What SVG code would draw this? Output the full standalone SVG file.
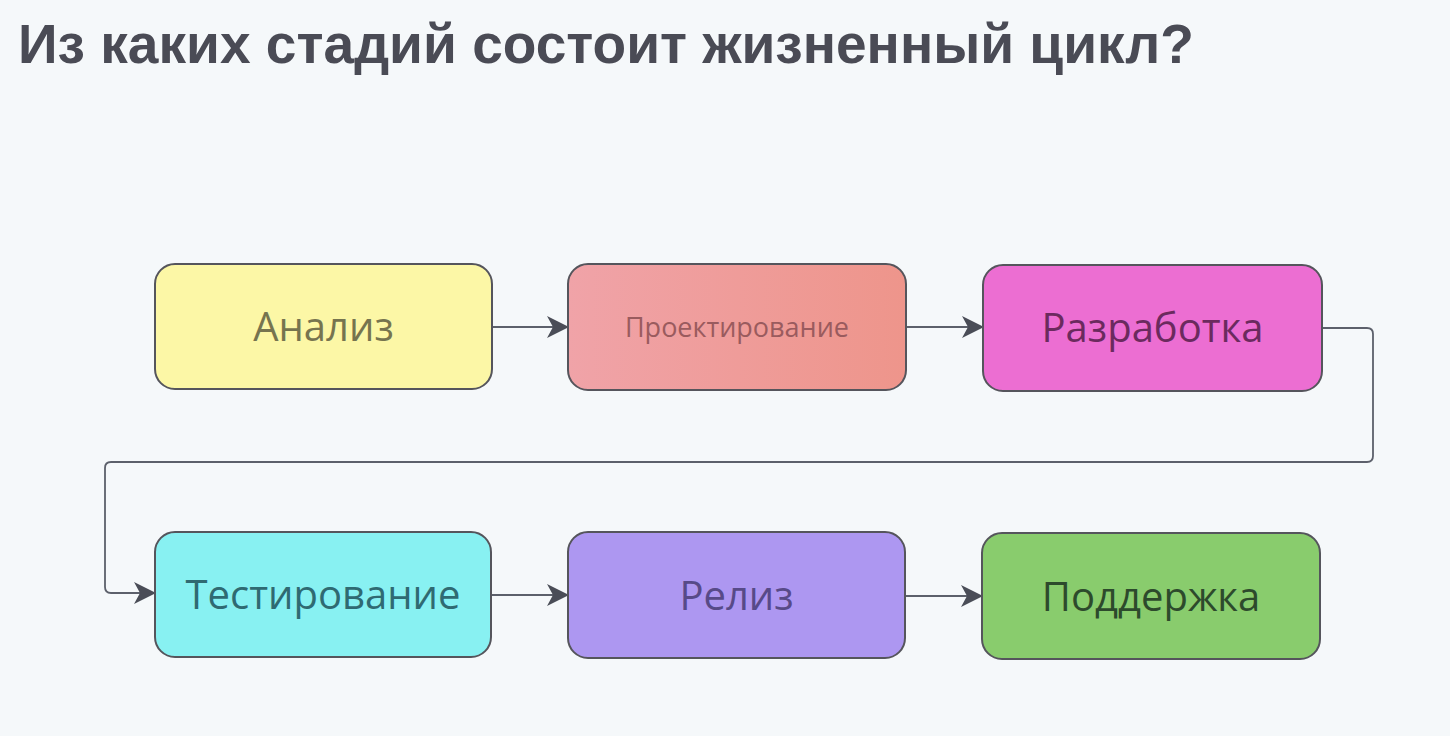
<svg xmlns="http://www.w3.org/2000/svg" width="1450" height="736" viewBox="0 0 1450 736">
  <defs>
    <marker id="arr" viewBox="0 0 22 22" refX="21" refY="11" markerWidth="22" markerHeight="22" markerUnits="userSpaceOnUse" orient="auto">
      <path d="M0,0 L22,11 L0,22 L6,11 Z" fill="#4a4d57"/>
    </marker>
    <linearGradient id="gProj" x1="0" y1="0" x2="1" y2="0">
      <stop offset="0" stop-color="#f0a3a8"/>
      <stop offset="1" stop-color="#ee958b"/>
    </linearGradient>
    <style>
      .box { stroke: #55555c; stroke-width: 2; }
      .lbl { font-family: "Open Sans", "Noto Sans", "DejaVu Sans", sans-serif; text-anchor: middle; }
      .con { fill: none; stroke: #5c606b; stroke-width: 2.2; }
      .loop { fill: none; stroke: #5c606b; stroke-width: 1.8; }
    </style>
  </defs>
  <rect x="0" y="0" width="1450" height="736" fill="#f5f8fa"/>
  <text x="18" y="63" font-family="'Liberation Sans', Arial, sans-serif" font-weight="bold" font-size="56" fill="#4a4b55" textLength="1176" lengthAdjust="spacingAndGlyphs">Из каких стадий состоит жизненный цикл?</text>

  <g id="connectors">
    <line class="con" x1="492" y1="327" x2="568" y2="327" marker-end="url(#arr)"/>
    <line class="con" x1="906" y1="327" x2="983" y2="327" marker-end="url(#arr)"/>
    <path class="loop" d="M1322,328 H1367 Q1373,328 1373,334 V456 Q1373,462 1367,462 H111 Q105,462 105,468 V587 Q105,593 111,593 H155" marker-end="url(#arr)"/>
    <line class="con" x1="491" y1="595" x2="568" y2="595" marker-end="url(#arr)"/>
    <line class="con" x1="905" y1="596" x2="982" y2="596" marker-end="url(#arr)"/>
  </g>

  <g id="node-analiz">
    <rect class="box" x="155" y="264" width="337" height="125" rx="20" fill="#fcf7a6"/>
    <text class="lbl" x="323.5" y="341" font-size="40" fill="#76744f">Анализ</text>
  </g>
  <g id="node-proektirovanie">
    <rect class="box" x="568" y="264" width="338" height="126" rx="20" fill="url(#gProj)"/>
    <text class="lbl" x="737" y="337" font-size="27" fill="#9a5b5e">Проектирование</text>
  </g>
  <g id="node-razrabotka">
    <rect class="box" x="983" y="265" width="339" height="126" rx="20" fill="#ec6ed2"/>
    <text class="lbl" x="1152.5" y="342" font-size="40" fill="#6b2a5e">Разработка</text>
  </g>
  <g id="node-testirovanie">
    <rect class="box" x="155" y="532" width="336" height="125" rx="20" fill="#88f1f2"/>
    <text class="lbl" x="323" y="609" font-size="40" fill="#2f6a72">Тестирование</text>
  </g>
  <g id="node-reliz">
    <rect class="box" x="568" y="532" width="337" height="126" rx="20" fill="#ad97f1"/>
    <text class="lbl" x="736.5" y="610" font-size="40" fill="#574a88">Релиз</text>
  </g>
  <g id="node-podderzhka">
    <rect class="box" x="982" y="533" width="338" height="126" rx="20" fill="#89cc6d"/>
    <text class="lbl" x="1151" y="611" font-size="40" fill="#2d4a2c">Поддержка</text>
  </g>
</svg>
